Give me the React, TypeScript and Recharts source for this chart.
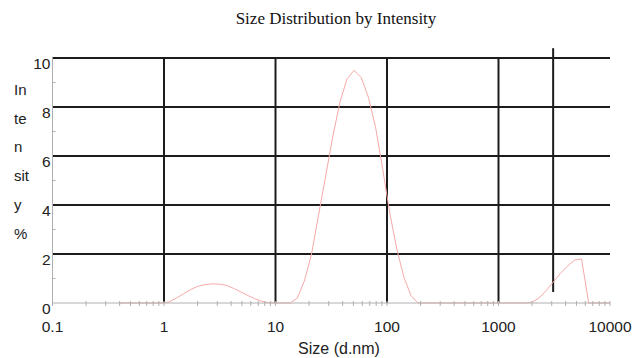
import React from 'react';
import { LineChart, Line, XAxis, YAxis, ReferenceLine } from 'recharts';

// Zetasizer size classes (d.nm)
const sizes = [
  0.4, 0.4632, 0.5365, 0.6213, 0.7195, 0.8332, 0.9649, 1.117, 1.294, 1.499,
  1.736, 2.01, 2.328, 2.696, 3.122, 3.615, 4.187, 4.849, 5.615, 6.503,
  7.531, 8.721, 10.1, 11.7, 13.54, 15.69, 18.17, 21.04, 24.36, 28.21,
  32.67, 37.84, 43.82, 50.75, 58.77, 68.06, 78.82, 91.28, 105.7, 122.4,
  141.8, 164.2, 190.1, 220.2, 255.0, 295.3, 342.0, 396.1, 458.7, 531.2,
  615.1, 712.4, 825.0, 955.4, 1106, 1281, 1484, 1718, 1990, 2305,
  2669, 3091, 3580, 4145, 4801, 5560, 6439, 7456, 8635, 10000,
];

// Intensity (%)
const intensity = [
  0, 0, 0, 0, 0, 0, 0, 0.05, 0.2, 0.38,
  0.55, 0.68, 0.75, 0.78, 0.77, 0.72, 0.6, 0.46, 0.31, 0.18,
  0.07, 0.01, 0, 0, 0, 0.2, 0.9, 2.0, 3.6, 5.2,
  6.8, 8.2, 9.15, 9.5, 9.2, 8.4, 7.2, 5.5, 3.7, 2.2,
  1.05, 0.3, 0, 0, 0, 0, 0, 0, 0, 0,
  0, 0, 0, 0, 0, 0, 0, 0, 0.03, 0.2,
  0.5, 0.85, 1.2, 1.5, 1.75, 1.8, 0, 0, 0, 0,
];

const xMajor = [0.1, 1, 10, 100, 1000, 10000];
const xTicks = [
  0.1, 0.2, 0.3, 0.4, 0.5, 0.6, 0.7, 0.8, 0.9,
  1, 2, 3, 4, 5, 6, 7, 8, 9,
  10, 20, 30, 40, 50, 60, 70, 80, 90,
  100, 200, 300, 400, 500, 600, 700, 800, 900,
  1000, 2000, 3000, 4000, 5000, 6000, 7000, 8000, 9000,
  10000,
];
const xGrid = [1, 10, 100, 1000];
const yTicks = [0, 1, 2, 3, 4, 5, 6, 7, 8, 9, 10];
const yGrid = [2, 4, 6, 8, 10];
const markerSize = 3091;
const yLabelParts = ['In', 'te', 'n', 'sit', 'y', '%'];

const data = sizes.map((s, i) => ({ size: s, value: intensity[i] }));

const GRID = '#1c1c1c';
const AXIS = '#b0b0b0';

const XTick = (props: any) => {
  const { x, y, payload } = props;
  const major = xMajor.includes(payload.value);
  return (
    <g>
      <line x1={x} x2={x} y1={y - 2} y2={y + 3} stroke={AXIS} strokeWidth={1} />
      {major && (
        <text x={x} y={y + 29} textAnchor="middle" fontSize={15.5} fill="#222"
          fontFamily="Liberation Sans, Arial, sans-serif">
          {payload.value}
        </text>
      )}
    </g>
  );
};

const YTick = (props: any) => {
  const { x, y, payload } = props;
  const v = payload.value;
  if (v % 2 === 1) {
    return <line x1={x} x2={x + 3} y1={y} y2={y} stroke={AXIS} strokeWidth={1} />;
  }
  return (
    <text x={x - 2} y={y + 11} textAnchor="end" fontSize={15.5} fill="#222"
      fontFamily="Liberation Sans, Arial, sans-serif">
      {v}
    </text>
  );
};

export default function App() {
  return (
    <div style={{ position: 'absolute', left: 0, top: 0, width: 638, height: 358, background: '#fff' }}>
      <div style={{ position: 'absolute', left: 0, width: 672, top: 9, textAlign: 'center',
        fontFamily: 'Liberation Serif, Times New Roman, serif', fontSize: 17, color: '#111' }}>
        Size Distribution by Intensity
      </div>
      {yLabelParts.map((t, i) => (
        <div key={t} style={{ position: 'absolute', left: 14, top: 81 + i * 28.7, fontSize: 15,
          fontFamily: 'Liberation Sans, Arial, sans-serif', color: '#222', lineHeight: '18px' }}>
          {t}
        </div>
      ))}
      <div style={{ position: 'absolute', left: 0, width: 678, top: 340, textAlign: 'center',
        fontFamily: 'Liberation Sans, Arial, sans-serif', fontSize: 16, color: '#222' }}>
        Size (d.nm)
      </div>
      <div style={{ position: 'absolute', left: 0, top: 0 }}>
        <LineChart width={638} height={358} data={data}
          margin={{ top: 58, right: 28, bottom: 0, left: 0 }}>
          <XAxis dataKey="size" type="number" scale="log" domain={[0.1, 10000]}
            ticks={xTicks} interval={0} height={55} allowDataOverflow
            tickLine={false} tickSize={0} tickMargin={0}
            axisLine={{ stroke: AXIS }} tick={<XTick />} />
          <YAxis type="number" domain={[0, 10]} ticks={yTicks} interval={0} width={52.5}
            tickLine={false} tickSize={0} tickMargin={0}
            axisLine={{ stroke: AXIS }} tick={<YTick />} />
          {yGrid.map((v) => (
            <ReferenceLine key={'h' + v} y={v} stroke={GRID} strokeWidth={2} />
          ))}
          {xGrid.map((v) => (
            <ReferenceLine key={'v' + v} x={v} stroke={GRID} strokeWidth={2} />
          ))}
          <ReferenceLine ifOverflow="visible" stroke={GRID} strokeWidth={2}
            segment={[{ x: markerSize, y: 0.45 }, { x: markerSize, y: 10.4 }]} />
          <Line type="linear" dataKey="value" stroke="#f6a9a9" strokeWidth={1}
            dot={false} isAnimationActive={false} />
        </LineChart>
      </div>
    </div>
  );
}
